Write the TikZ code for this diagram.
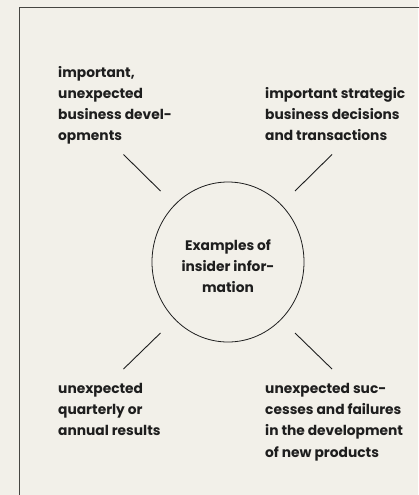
\documentclass[tikz,border=0pt]{standalone}
\usepackage{fontspec}
\setmainfont{Poppins}
\definecolor{bgc}{RGB}{242,240,233}
\definecolor{ink}{RGB}{30,30,30}
\definecolor{framec}{RGB}{70,70,66}
\begin{document}
\begin{tikzpicture}[x=1pt,y=-1pt,
  lbl/.style={inner sep=0pt, align=left, font=\fontsize{13.8}{21.2}\selectfont\bfseries, text=ink},
  ctr/.style={inner sep=0pt, align=center, font=\fontsize{13.8}{21}\selectfont\bfseries, text=ink},
  ray/.style={draw=ink, line width=0.9pt},
  hubline/.style={draw=ink, line width=0.8pt}]
\useasboundingbox[fill=bgc] (0,0) rectangle (418,495);
\draw[framec, line width=1.3pt] (19.7,500) -- (19.7,7.5) -- (425,7.5);
\coordinate (hub) at (228,262);
\draw[hubline] (hub) ellipse [x radius=76, y radius=80];
\node[ctr, anchor=north] (c) at (228,239) {Examples of\\insider infor-\\mation};
\node[lbl, anchor=north west] (tl) at (58,66) {important,\\unexpected\\business devel-\\opments};
\node[lbl, anchor=north west] (tr) at (265,87) {important strategic\\business decisions\\and transactions};
\node[lbl, anchor=north west] (bl) at (58,383) {unexpected\\quarterly or\\annual results};
\node[lbl, anchor=north west] (br) at (265,383) {unexpected suc-\\cesses and failures\\in the development\\of new products};
\coordinate (a1) at (123.5,154.5); \coordinate (a2) at (160.5,191);
\coordinate (b1) at (332,154.5); \coordinate (b2) at (295,191);
\coordinate (c1) at (160.5,333); \coordinate (c2) at (123.5,369);
\coordinate (d1) at (295,333); \coordinate (d2) at (332,369);
\draw[ray] (a1) -- (a2);
\draw[ray] (b1) -- (b2);
\draw[ray] (c1) -- (c2);
\draw[ray] (d1) -- (d2);
\end{tikzpicture}
\end{document}
